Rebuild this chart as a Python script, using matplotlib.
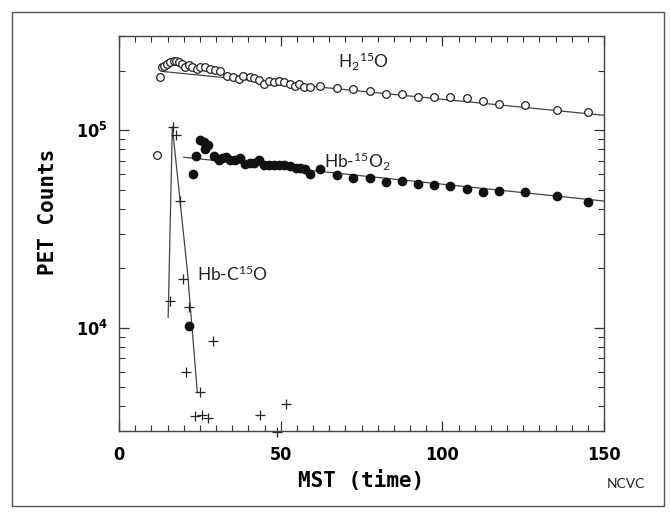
import math
import matplotlib
matplotlib.use("Agg")
import matplotlib.pyplot as plt
from matplotlib import font_manager as fm
from matplotlib.patches import Rectangle
from matplotlib.ticker import LogLocator, FuncFormatter, MultipleLocator, NullFormatter

# H2-15O, open circles
h2o_t = [11.6, 12.7, 13.2, 14.0, 14.8, 15.8, 16.9, 17.7, 18.7, 19.4, 20.4, 21.5,
         22.5, 24.1, 25.1, 26.7, 28.2, 29.8, 31.3, 33.4, 35.2, 37.0, 38.5, 40.4,
         41.9, 43.2, 44.7, 46.3, 47.8, 49.4, 50.9, 52.8, 54.3, 55.6, 57.1, 59.0,
         62.3, 67.5, 72.5, 77.5, 82.5, 87.5, 92.5, 97.5, 102.5, 107.5, 112.5,
         117.5, 125.5, 135.5, 145.0]
h2o_cnt = [7.47e4, 1.86e5, 2.08e5, 2.12e5, 2.16e5, 2.21e5, 2.23e5, 2.25e5, 2.21e5,
           2.16e5, 2.10e5, 2.14e5, 2.08e5, 2.04e5, 2.08e5, 2.10e5, 2.04e5, 2.01e5,
           2.00e5, 1.88e5, 1.86e5, 1.81e5, 1.88e5, 1.85e5, 1.83e5, 1.79e5, 1.72e5,
           1.78e5, 1.76e5, 1.78e5, 1.76e5, 1.71e5, 1.68e5, 1.71e5, 1.66e5, 1.66e5,
           1.68e5, 1.63e5, 1.61e5, 1.58e5, 1.53e5, 1.52e5, 1.47e5, 1.47e5, 1.47e5,
           1.46e5, 1.41e5, 1.36e5, 1.34e5, 1.27e5, 1.23e5]
h2o_fit_t = [14, 150]
h2o_fit = [1.98e5, 1.19e5]

# Hb-15O2, filled circles
hbo2_t = [21.5, 23.0, 23.9, 24.9, 26.2, 26.7, 27.4, 29.3, 30.8, 31.8, 33.1, 34.4,
          36.0, 37.3, 39.1, 40.6, 41.9, 43.2, 44.7, 46.3, 47.8, 49.4, 50.9, 52.8,
          54.6, 56.1, 57.6, 59.2, 62.3, 67.5, 72.5, 77.5, 82.5, 87.5, 92.5, 97.5,
          102.5, 107.5, 112.5, 117.5, 125.5, 135.5, 145.0]
hbo2_cnt = [1.02e4, 6.0e4, 7.41e4, 8.92e4, 8.67e4, 8.02e4, 8.41e4, 7.41e4, 7.04e4,
            7.25e4, 7.33e4, 7.05e4, 7.05e4, 7.25e4, 6.78e4, 6.85e4, 6.85e4, 7.04e4,
            6.64e4, 6.64e4, 6.70e4, 6.64e4, 6.64e4, 6.59e4, 6.44e4, 6.44e4, 6.38e4,
            6.0e4, 6.34e4, 5.94e4, 5.72e4, 5.72e4, 5.50e4, 5.56e4, 5.35e4, 5.28e4,
            5.24e4, 5.05e4, 4.89e4, 4.94e4, 4.89e4, 4.63e4, 4.31e4]
hbo2_fit_t = [20, 150]
hbo2_fit = [7.3e4, 4.38e4]

# Hb-C15O, plus signs
hbco_t = [15.8, 16.7, 17.7, 18.8, 19.7, 20.7, 21.8, 23.6, 24.9, 25.6, 27.4, 29.1,
          43.5, 48.9, 51.6]
hbco_cnt = [1.36e4, 1.04e5, 9.5e4, 4.4e4, 1.76e4, 5.97e3, 1.27e4, 3.58e3, 4.75e3,
            3.6e3, 3.51e3, 8.57e3, 3.6e3, 2.97e3, 4.09e3]
hbco_fit_t = [15.2, 16.5, 21.2, 24.2]
hbco_fit = [1.13e4, 1.04e5, 1.9e4, 4.75e3]

names = {f.name for f in fm.fontManager.ttflist}
if 'Liberation Sans Narrow' in names:
    tick_font = dict(family='Liberation Sans Narrow', weight='bold')
elif 'DejaVu Sans Condensed' in names:
    tick_font = dict(family='DejaVu Sans Condensed', weight='bold')
else:
    tick_font = dict(family='DejaVu Sans', weight='bold', stretch='condensed')
label_font = dict(family='DejaVu Sans Mono', weight='bold', size=15)
plt.rcParams['mathtext.default'] = 'regular'

fig = plt.figure(figsize=(6.7, 5.18), dpi=100)
fig.patches.append(Rectangle((12.5 / 670, 12 / 518), 651 / 670, 494 / 518,
                             transform=fig.transFigure, fill=False,
                             edgecolor='#555555', lw=1.0))
ax = fig.add_axes([119 / 670, 1 - 431 / 518, 485 / 670, 395 / 518])

line_kw = dict(color='#444444', lw=0.9)
ax.plot(h2o_fit_t, h2o_fit, **line_kw)
ax.plot(hbo2_fit_t, hbo2_fit, **line_kw)
ax.plot(hbco_fit_t, hbco_fit, **line_kw)

ax.plot(h2o_t, h2o_cnt, 'o', ms=5.5, mfc='white', mec='#222222', mew=0.9, clip_on=False)
ax.plot(hbo2_t, hbo2_cnt, 'o', ms=6, mfc='#111111', mec='#111111', clip_on=False)
ax.plot(hbco_t, hbco_cnt, '+', ms=6.5, color='#222222', mew=0.9, clip_on=False)

ax.set_yscale('log')
ax.set_xlim(0, 150)
ax.set_ylim(3e3, 3e5)

ax.xaxis.set_major_locator(MultipleLocator(50))
ax.xaxis.set_minor_locator(MultipleLocator(5))
ax.yaxis.set_major_locator(LogLocator(base=10))
ax.yaxis.set_minor_locator(LogLocator(base=10, subs=range(2, 10)))
ax.yaxis.set_minor_formatter(NullFormatter())
ax.yaxis.set_major_formatter(
    FuncFormatter(lambda v, p: r'$\mathregular{10^{%d}}$' % round(math.log10(v))))

ax.tick_params(which='both', direction='in', top=True, right=True, color='#333333')
ax.tick_params(which='major', length=7, width=0.9)
ax.tick_params(which='minor', length=4, width=0.8)
ax.tick_params(axis='x', which='major', pad=11)
ax.tick_params(axis='y', which='major', pad=8)
for lab in ax.get_xticklabels() + ax.get_yticklabels():
    lab.set_fontproperties(fm.FontProperties(size=13, **tick_font))
for s in ax.spines.values():
    s.set_color('#444444')
    s.set_linewidth(1.0)

ax.set_xlabel('MST (time)', fontdict=label_font)
ax.xaxis.set_label_coords(0.5, -0.10)
ax.set_ylabel('PET Counts', fontdict=label_font)
ax.yaxis.set_label_coords(-0.125, 0.555)

txt_kw = dict(family='Lato', size=12.5, ha='center', va='center', color='#222222')
ax.text(75.6, 2.21e5, r'H$_2$$^{15}$O', **txt_kw)
ax.text(73.8, 6.88e4, r'Hb-$^{15}$O$_2$', **txt_kw)
ax.text(35.0, 1.86e4, r'Hb-C$^{15}$O', **txt_kw)
fig.text(626 / 670, 1 - 484 / 518, 'NCVC', family='Lato', size=10,
         ha='center', va='center', color='#222222')

fig.savefig('out.png', dpi=100)
